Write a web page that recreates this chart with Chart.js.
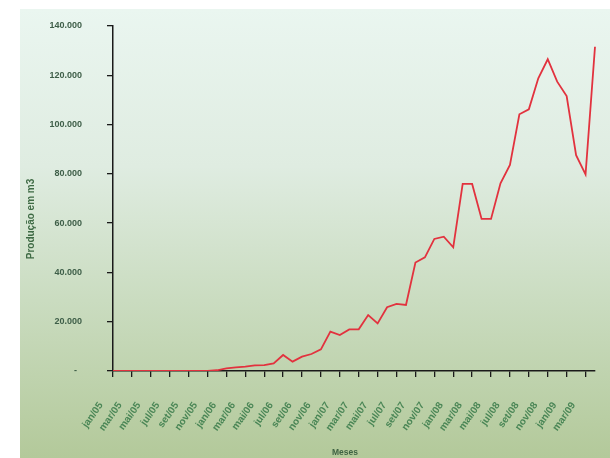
<!DOCTYPE html>
<html>
<head>
<meta charset="utf-8">
<script src="https://cdn.jsdelivr.net/npm/chart.js@4"></script>
<style>
  body { margin: 0; background: #fff; }
  #box {
    position: absolute; left: 20px; top: 9px; width: 590px; height: 449px;
    background: linear-gradient(to bottom, #eaf6f0 0%, #dfece1 35%, #cadcc0 65%, #b3c99a 100%);
  }
</style>
</head>
<body>
<div id="box"><canvas id="grafico" width="590" height="449"></canvas></div>
<script>
// meses (jan/05 ate abr/09)
var meses = [
  'jan/05','fev/05','mar/05','abr/05','mai/05','jun/05','jul/05','ago/05','set/05','out/05','nov/05','dez/05',
  'jan/06','fev/06','mar/06','abr/06','mai/06','jun/06','jul/06','ago/06','set/06','out/06','nov/06','dez/06',
  'jan/07','fev/07','mar/07','abr/07','mai/07','jun/07','jul/07','ago/07','set/07','out/07','nov/07','dez/07',
  'jan/08','fev/08','mar/08','abr/08','mai/08','jun/08','jul/08','ago/08','set/08','out/08','nov/08','dez/08',
  'jan/09','fev/09','mar/09','abr/09'
];

// producao em m3 por mes
var producao = [
  0, 0, 0, 0, 0, 0, 0, 0, 0, 0, 0, 300,
  1100, 1500, 1800, 2300, 2400, 3100, 6500, 3800, 5800, 6900, 8800, 16000,
  14600, 16900, 16900, 22700, 19300, 25900, 27200, 26800, 44000, 46100, 53600, 54500,
  50200, 75900, 75900, 61700, 61700, 76200, 83600, 104200, 106200, 118800, 126500, 117400,
  111600, 87600, 79800, 131600
];

var yMax = 140000;
var yPasso = 20000;
var tituloX = 'Meses';
var tituloY = 'Produção em m3';

function formatar(v) {
  if (v === 0) return '-  ';
  return String(v).replace(/\B(?=(\d{3})+(?!\d))/g, '.');
}

// a area do grafico fica so com o padding do layout
function semPadding(s) {
  s.paddingLeft = 0; s.paddingRight = 0; s.paddingTop = 0; s.paddingBottom = 0;
}

// titulos dos eixos desenhados a mao (no excel nao ficam centrados)
var titulos = {
  id: 'titulos',
  afterDraw: function (chart) {
    var c = chart.ctx;
    c.save();
    c.font = 'bold 10px "Liberation Sans"';
    c.fillStyle = '#3f6b45';
    c.textAlign = 'center';
    c.textBaseline = 'middle';
    c.translate(11, 210);
    c.rotate(-Math.PI / 2);
    c.fillText(tituloY, 0, 0);
    c.restore();

    c.save();
    c.font = 'bold 8.5px "Liberation Sans"';
    c.fillStyle = '#3f6343';
    c.textAlign = 'center';
    c.textBaseline = 'middle';
    c.fillText(tituloX, 325, 444);
    c.restore();
  }
};

var ctx = document.getElementById('grafico');
var grafico = new Chart(ctx, {
  type: 'line',
  data: {
    labels: meses,
    datasets: [{
      label: 'Produção',
      data: producao,
      borderColor: '#e2323e',
      borderWidth: 1.8,
      pointRadius: 0,
      tension: 0,
      fill: false
    }]
  },
  plugins: [titulos],
  options: {
    responsive: false,
    animation: false,
    layout: { padding: { top: 17, right: 15, left: 0, bottom: 0 } },
    plugins: { legend: { display: false }, tooltip: { enabled: false } },
    scales: {
      x: {
        offset: false,
        afterFit: function (s) { s.height = 87; semPadding(s); },
        border: { display: true, color: '#1a1a1a', width: 1.5 },
        grid: {
          drawOnChartArea: false,
          drawTicks: true,
          tickLength: 6,
          color: function (c) { return c.index % 2 ? 'rgba(0,0,0,0)' : '#1a1a1a'; },
          lineWidth: 1.3
        },
        ticks: {
          autoSkip: false,
          maxRotation: 55,
          minRotation: 55,
          padding: 23,
          labelOffset: -12,
          color: '#4a8656',
          font: { family: 'Liberation Sans', size: 10, weight: 'bold' },
          callback: function (v, i) { return i % 2 ? '' : meses[i]; }
        }
      },
      y: {
        min: 0,
        max: yMax,
        afterFit: function (s) { s.width = 93; semPadding(s); },
        border: { display: true, color: '#1a1a1a', width: 1.5 },
        grid: { drawOnChartArea: false, drawTicks: true, tickLength: 6, color: '#1a1a1a', lineWidth: 1.3 },
        ticks: {
          stepSize: yPasso,
          padding: 25,
          color: '#3e5e48',
          font: { family: 'Liberation Sans', size: 9, weight: 'bold' },
          callback: function (v) { return formatar(v); }
        }
      }
    }
  }
});
</script>
</body>
</html>
